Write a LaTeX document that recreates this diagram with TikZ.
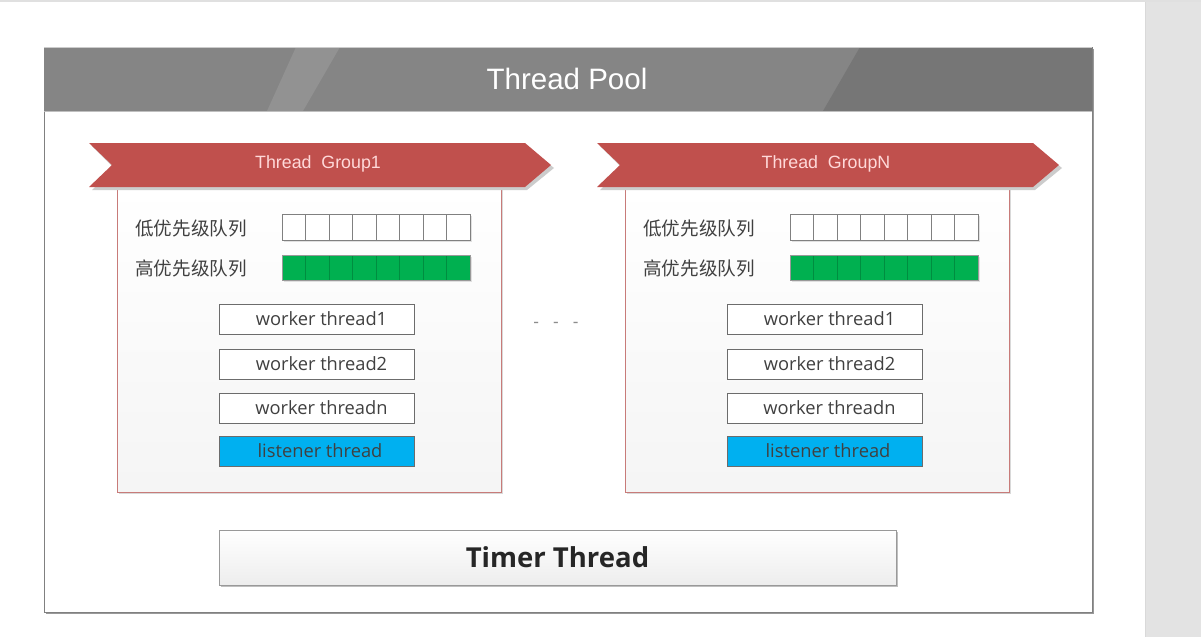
\documentclass[tikz,border=0pt]{standalone}
\usepackage{fontspec}
\setmainfont{Liberation Sans}
\newfontfamily\cjk{Noto Sans CJK SC}
\newfontfamily\seg{Open Sans}
\usetikzlibrary{shadows}
\definecolor{hdr}{HTML}{858585}
\definecolor{hdrdark}{HTML}{767676}
\definecolor{hdrlight}{HTML}{929292}
\definecolor{bannerred}{HTML}{C0504D}
\definecolor{boxred}{HTML}{C87B79}
\definecolor{qgreen}{HTML}{00B050}
\definecolor{lblue}{HTML}{00B0F0}
\definecolor{txtgray}{HTML}{404040}
\definecolor{panel}{HTML}{E3E3E3}
\tikzset{
  workerbox/.style={draw=gray!85!black, line width=0.8pt, fill=white, minimum width=195pt, minimum height=30pt, inner sep=0pt, font=\seg\fontsize{18.3}{20}\selectfont, text=txtgray, drop shadow={shadow xshift=1pt, shadow yshift=-1pt, opacity=0.25}},
  listenerbox/.style={workerbox, fill=lblue, text=black!75},
  cell/.style={draw=gray, line width=0.7pt},
  qlabel/.style={font=\cjk\fontsize{18.6}{21}\selectfont, text=txtgray, anchor=west, inner sep=0pt},
  bannertext/.style={font=\fontsize{17.8}{20}\selectfont, text=white!85!red},
}
\begin{document}
\begin{tikzpicture}[x=1pt,y=-1pt]
\useasboundingbox (0,0) rectangle (1201,637);
\fill[white] (0,0) rectangle (1201,637);
\fill[black!12] (0,0) rectangle (1201,2);
\fill[panel] (1145,2) rectangle (1201,637);
\draw[black!15] (1145,2) -- (1145,637);
% outer frame
\fill[black!40] (46,49) rectangle (1094,614);
\fill[white] (44,47) rectangle (1092,612);
\draw[gray, line width=0.8pt] (44,47) rectangle (1092,612);
% header
\fill[hdr] (44,47) rectangle (1092,111);
\fill[hdrlight] (296,47) -- (340,47) -- (303,111) -- (267,111) -- cycle;
\fill[hdrdark] (860,47) -- (1092,47) -- (1092,111) -- (823,111) -- cycle;
\draw[black!20, line width=0.8pt] (44,47) -- (1092,47);
\draw[black!25, line width=0.8pt] (44,111) -- (1092,111);
\node[font=\fontsize{29.5}{32}\selectfont, text=white] (title) at (567,79) {Thread Pool};

\foreach \g/\dx/\lab in {1/0/Thread~~Group1, 2/508/Thread~~GroupN}{
  \begin{scope}[xshift=\dx]
    % group box
    \shade[top color=white, bottom color=black!4] (117,187) rectangle (501,492);
    \draw[boxred, line width=0.9pt] (117,187) rectangle (501,492);
    \draw[black!15, line width=0.8pt] (119,493.5) -- (502.5,493.5) -- (502.5,189);
    % banner
    \fill[black!20] (92,146) -- (527,146) -- (554,168) -- (527,190) -- (92,190) -- (114,168) -- cycle;
    \fill[bannerred] (89,143) -- (525,143) -- (551,165) -- (525,187) -- (89,187) -- (112,165) -- cycle;
    \node[bannertext] (bt\g) at (318,164) {\lab};
    % queues
    \node[qlabel] (lq\g) at (135,228) {低优先级队列};
    \node[qlabel] (hq\g) at (135,268) {高优先级队列};
    \fill[black!12] (284,216) rectangle (472,242);
    \fill[white] (282,214) rectangle (470,240);
    \fill[black!12] (284,257) rectangle (472,282);
    \fill[qgreen] (282,255) rectangle (470,280);
    \foreach \i in {0,...,7}{
      \draw[cell] ({282+\i*23.5},214) rectangle ({282+(\i+1)*23.5},240);
      \draw[qgreen!80!black, line width=0.6pt] ({282+\i*23.5},255) rectangle ({282+(\i+1)*23.5},280);
    }
    \draw[gray!80, line width=0.7pt] (282,255) rectangle (470,280);
    % threads
    \node[workerbox] (w1\g) at (316.5,319) {\hspace*{10pt}worker thread1};
    \node[workerbox] (w2\g) at (316.5,364) {\hspace*{10pt}worker thread2};
    \node[workerbox] (wn\g) at (316.5,408) {\hspace*{10pt}worker threadn};
    \node[listenerbox] (ls\g) at (316.5,451) {\hspace*{7pt}listener thread};
  \end{scope}
}
\node[font=\fontsize{17}{18}\selectfont, text=black!45] (dots) at (556,325) {-~~~-~~~-};
% timer
\fill[black!25] (221,532) rectangle (898,587);
\shade[top color=white, bottom color=black!7] (219,530) rectangle (896,585);
\draw[black!40, line width=0.9pt] (219,530) rectangle (896,585);
\node[font=\seg\bfseries\fontsize{27.5}{30}\selectfont, text=black!85] (timer) at (557.5,557) {Timer Thread};
\end{tikzpicture}
\end{document}
